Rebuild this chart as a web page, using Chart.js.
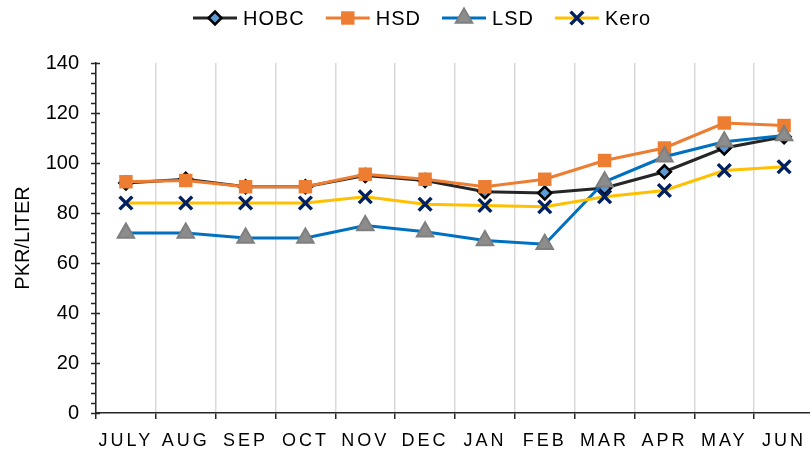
<!DOCTYPE html>
<html>
<head>
<meta charset="utf-8">
<script src="https://cdn.jsdelivr.net/npm/chart.js@4.4.1/dist/chart.umd.min.js"></script>
<style>
  html, body { margin: 0; padding: 0; background: #fff; overflow: hidden; }
  #wrap { width: 815px; height: 451px; position: relative; }
</style>
</head>
<body>
<div id="wrap"><canvas id="chart"></canvas></div>
<script>
// Monthly prices, PKR per liter
const months = ['JULY', 'AUG', 'SEP', 'OCT', 'NOV', 'DEC', 'JAN', 'FEB', 'MAR', 'APR', 'MAY', 'JUN'];
const hobc = [92, 93.5, 90.5, 90.5, 95, 93, 88.5, 88, 90, 96.5, 106, 110.5];
const hsd  = [92.5, 93, 90.5, 90.5, 95.5, 93.5, 90.5, 93.5, 101, 106, 116, 115];
const lsd  = [72, 72, 70, 70, 75, 72.5, 69, 67.5, 92.5, 102.5, 108.5, 111];
const kero = [84, 84, 84, 84, 86.5, 83.5, 83, 82.5, 86.5, 89, 97, 98.5];
const yMax = 140;
const yMajor = 20;
const yMinor = 4;

const FONT = '"Liberation Sans", Arial, sans-serif';

// draw a marker for the legend samples
function drawMarker(ctx, ds, x, y) {
    const r = ds.pointRadius;
    ctx.save();
    ctx.fillStyle = ds.pointBackgroundColor;
    ctx.strokeStyle = ds.pointBorderColor;
    ctx.lineWidth = ds.pointBorderWidth;
    ctx.beginPath();
    if (ds.pointStyle === 'rectRot') {
        ctx.moveTo(x, y - r); ctx.lineTo(x + r, y); ctx.lineTo(x, y + r); ctx.lineTo(x - r, y); ctx.closePath();
        ctx.fill(); ctx.stroke();
    } else if (ds.pointStyle === 'rect') {
        const s = r * Math.SQRT1_2;
        ctx.rect(x - s, y - s, 2 * s, 2 * s);
        ctx.fill(); if (ds.pointBorderWidth) ctx.stroke();
    } else if (ds.pointStyle === 'triangle') {
        const h = r * 1.5, w = r * 0.866 * 2;
        ctx.moveTo(x, y - r); ctx.lineTo(x + w / 2, y + h - r); ctx.lineTo(x - w / 2, y + h - r); ctx.closePath();
        ctx.fill(); ctx.stroke();
    } else if (ds.pointStyle === 'crossRot') {
        const o = r * Math.SQRT1_2;
        ctx.moveTo(x - o, y - o); ctx.lineTo(x + o, y + o);
        ctx.moveTo(x + o, y - o); ctx.lineTo(x - o, y + o);
        ctx.stroke();
    }
    ctx.restore();
}

// legend with line + marker samples
const lineLegend = {
    id: 'lineLegend',
    afterDraw(chart) {
        const ctx = chart.ctx;
        ctx.save();
        ctx.font = '20px ' + FONT;
        ctx.letterSpacing = '1px';
        ctx.textBaseline = 'middle';
        ctx.textAlign = 'left';
        let x = 193;
        const y = 18;
        chart.data.datasets.forEach(ds => {
            ctx.strokeStyle = ds.borderColor;
            ctx.lineWidth = ds.borderWidth;
            ctx.beginPath();
            ctx.moveTo(x, y);
            ctx.lineTo(x + 44, y);
            ctx.stroke();
            drawMarker(ctx, ds, x + 22, y);
            ctx.fillStyle = '#000';
            ctx.fillText(ds.label, x + 50, y + 1);
            x += 50 + ctx.measureText(ds.label).width + 21;
        });
        ctx.restore();
    }
};

// wider letter spacing on the month labels, major y ticks crossing the axis
const axisExtras = {
    id: 'axisExtras',
    beforeDraw(chart) {
        const sx = chart.scales.x;
        if (!sx._spaced) {
            const orig = sx.drawLabels.bind(sx);
            sx.drawLabels = function (area) {
                chart.ctx.save();
                chart.ctx.letterSpacing = '3px';
                orig(area);
                chart.ctx.restore();
            };
            sx._spaced = true;
        }
    },
    afterDraw(chart) {
        const ys = chart.scales.y;
        const ctx = chart.ctx;
        ctx.save();
        ctx.strokeStyle = '#262626';
        ctx.lineWidth = 1.5;
        ctx.beginPath();
        for (let v = 0; v <= yMax; v += yMajor) {
            const py = Math.round(ys.getPixelForValue(v)) + 0.5;
            ctx.moveTo(chart.chartArea.left, py);
            ctx.lineTo(chart.chartArea.left + 4, py);
        }
        ctx.stroke();
        ctx.restore();
    }
};

const series = [
    { label: 'HOBC', data: hobc, borderColor: '#262626', pointStyle: 'rectRot', pointRadius: 6.5,
      pointBackgroundColor: '#5b9bd5', pointBorderColor: '#000000', pointBorderWidth: 2.5, order: 4 },
    { label: 'HSD', data: hsd, borderColor: '#ed7d31', pointStyle: 'rect', pointRadius: 9.5,
      pointBackgroundColor: '#ed7d31', pointBorderColor: '#ed7d31', pointBorderWidth: 0, order: 3 },
    { label: 'LSD', data: lsd, borderColor: '#0070c0', pointStyle: 'triangle', pointRadius: 9.5,
      pointBackgroundColor: '#8c8c8c', pointBorderColor: '#7f7f7f', pointBorderWidth: 2, order: 2 },
    { label: 'Kero', data: kero, borderColor: '#ffc000', pointStyle: 'crossRot', pointRadius: 9,
      pointBackgroundColor: '#002060', pointBorderColor: '#002060', pointBorderWidth: 3.5, order: 1 }
];

new Chart(document.getElementById('chart'), {
    type: 'line',
    data: {
        labels: months,
        datasets: series.map(s => Object.assign({
            borderWidth: 3,
            fill: false,
            tension: 0,
            pointHoverRadius: s.pointRadius,
            clip: false
        }, s))
    },
    options: {
        responsive: true,
        maintainAspectRatio: false,
        animation: false,
        layout: { padding: { top: 63, right: 1, left: 0, bottom: 0 }, autoPadding: false },
        plugins: {
            legend: { display: false },
            tooltip: { enabled: false }
        },
        scales: {
            x: {
                offset: true,
                afterFit(scale) { scale.height = 38; },
                grid: {
                    offset: true,
                    color: '#d9d9d9',
                    lineWidth: 1.5,
                    drawTicks: true,
                    tickLength: 6,
                    tickColor: '#262626',
                    tickWidth: 1.5
                },
                border: { display: true, color: '#262626', width: 1.5 },
                ticks: {
                    autoSkip: false,
                    maxRotation: 0,
                    padding: 11,
                    color: '#000',
                    font: { family: FONT, size: 18 }
                }
            },
            y: {
                min: 0,
                max: yMax,
                afterFit(scale) { scale.width = 96; },
                grid: {
                    drawOnChartArea: false,
                    drawTicks: true,
                    tickLength: 5,
                    tickColor: '#262626',
                    tickWidth: 1.5
                },
                border: { display: true, color: '#262626', width: 1.5 },
                ticks: {
                    stepSize: yMinor,
                    autoSkip: false,
                    maxTicksLimit: 100,
                    padding: 12,
                    color: '#000',
                    font: { family: FONT, size: 20 },
                    callback: v => (v % yMajor === 0 ? v : '')
                },
                title: {
                    display: true,
                    text: 'PKR/LITER',
                    color: '#000',
                    font: { family: FONT, size: 20 },
                    padding: { top: 11, bottom: 0 }
                }
            }
        }
    },
    plugins: [lineLegend, axisExtras]
});
</script>
</body>
</html>
